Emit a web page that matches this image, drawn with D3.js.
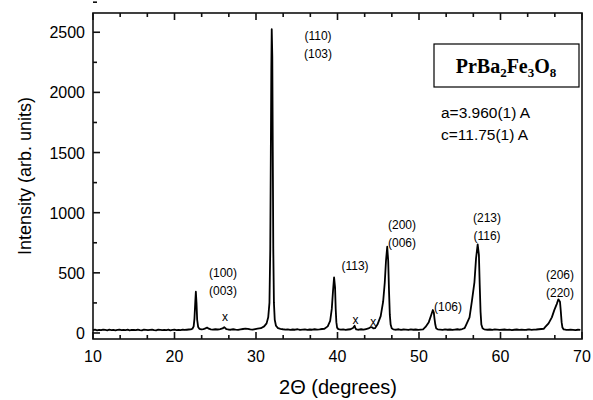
<!DOCTYPE html>
<html><head><meta charset="utf-8">
<script src="https://cdn.jsdelivr.net/npm/d3@7"></script>
<style>body{margin:0;background:#fff}svg{display:block}</style>
</head><body>
<svg id="c" width="593" height="400"></svg>
<script>
// 2θ (degrees)
const twoTheta = [
10,10.25,10.5,10.75,11,11.25,11.5,11.75,12,12.25,12.5,12.75,13,13.25,13.5,13.75,14,14.25,14.5,14.75,15,15.25,15.5,15.75,16,16.25,16.5,16.75,17,17.25,17.5,17.75,18,18.25,18.5,18.75,19,19.25,19.5,19.75,20,20.25,20.5,20.75,21,21.25,21.5,21.75,
22,22.2,22.35,22.45,22.55,22.62,22.7,22.78,22.9,23.05,23.3,23.55,23.8,24,24.2,24.45,24.7,25,25.3,25.6,25.9,26.1,26.2,26.35,26.6,26.9,27.2,27.5,27.8,28.1,28.4,28.7,29,29.3,29.6,29.9,30.2,
30.6,31,31.3,31.5,31.65,31.75,31.82,31.88,31.93,32,32.06,32.12,32.2,32.3,32.45,32.7,33,33.3,33.6,33.9,34.2,34.5,34.8,35.1,35.4,35.7,36,36.3,36.6,36.9,37.2,37.5,37.8,38.1,38.4,
38.8,39.1,39.3,39.45,39.58,39.7,39.78,39.86,39.95,40.1,40.4,40.7,41,41.3,41.6,41.9,42.1,42.2,42.3,42.6,42.9,43.2,43.5,43.8,44.1,44.3,44.4,44.6,
44.9,45.3,45.6,45.8,45.95,46.1,46.22,46.32,46.42,46.52,46.65,46.85,47.2,47.5,47.8,48.1,48.4,48.7,49,49.3,49.6,49.9,50.2,50.5,
50.8,51.2,51.5,51.7,51.82,51.9,52,52.1,52.3,52.6,52.9,53.2,53.5,53.8,54.1,54.4,54.7,55,55.3,55.6,
55.8,56.2,56.5,56.8,57,57.2,57.35,57.45,57.55,57.65,57.8,58,58.4,58.7,59,59.3,59.6,59.9,60.2,60.5,60.8,61.1,61.4,61.7,62,62.3,62.6,62.9,63.2,63.5,63.8,64.1,64.4,64.7,65,65.3,
65.5,65.9,66.3,66.6,66.9,67.1,67.3,67.4,67.5,67.6,67.75,68,68.3,68.6,68.9,69.2,69.5,69.8,70
];
// Intensity (arb. units)
const intensity = [
24,27,22,26,23,28,25,22,27,24,26,21,25,28,23,26,24,27,22,25,26,23,28,24,22,27,25,23,26,28,24,22,27,25,23,26,24,28,22,25,27,23,26,24,28,25,27,29,
30,35,55,120,260,343,250,110,50,35,30,33,38,45,36,30,28,31,29,33,38,48,42,33,29,27,31,28,26,30,33,36,35,30,28,32,36,
40,55,80,130,250,700,1500,2200,2525,2300,1500,700,250,110,60,40,35,31,28,30,26,29,27,31,25,28,30,26,29,27,31,28,30,33,
35,55,100,200,350,462,380,200,90,45,32,28,30,26,29,31,42,60,40,30,27,31,28,33,38,50,45,38,
40,70,140,260,420,600,717,600,350,150,70,40,30,27,31,26,29,28,25,30,27,29,26,28,
30,50,90,150,191,170,120,70,40,30,28,26,30,27,29,25,28,31,27,33,
40,70,130,270,420,620,737,650,400,180,70,40,30,27,29,26,30,28,25,27,29,26,28,24,27,29,26,28,25,27,30,26,28,29,31,33,
35,50,80,130,190,240,280,260,180,90,45,30,27,25,28,26,24,27,25
];
const xTickValues = [10,20,30,40,50,60,70];
const yTickValues = [0,500,1000,1500,2000,2500];
const peakLabels = [
  {x:22.6, lines:["(100)","(003)"]},
  {x:32.0, lines:["(110)","(103)"]},
  {x:39.7, lines:["(113)"]},
  {x:46.2, lines:["(200)","(006)"]},
  {x:51.9, lines:["(106)"]},
  {x:57.4, lines:["(213)","(116)"]},
  {x:67.3, lines:["(206)","(220)"]}
];
const impurities = [26.2, 42.2, 44.4];
const paramLines = ["a=3.960(1) A","c=11.75(1) A"];

const svg = d3.select("#c");
const PL=93, PR=582, PT=13, PB=339;
const x = d3.scaleLinear().domain([10,70]).range([PL,PR]);
const y = d3.scaleLinear().domain([-50,2660]).range([PB,PT]);
const font = "'Liberation Sans', Arial, sans-serif";

// plot frame
svg.append("rect").attr("x",PL).attr("y",PT).attr("width",PR-PL).attr("height",PB-PT)
  .attr("fill","#fff").attr("stroke","#111").attr("stroke-width",1.6);

// ticks
const xMinor = d3.range(0,19).map(i=>10+i*10/3).filter(v=>Math.abs(v-Math.round(v/10)*10)>0.01);
const yMinor = yTickValues.map(v=>v+250);
const xt = xTickValues.map(v=>[v,7]).concat(xMinor.map(v=>[v,4]));
const yt = yTickValues.map(v=>[v,7]).concat(yMinor.map(v=>[v,4]));
const tickG = svg.append("g");
xt.forEach(d=>{
  tickG.append("line").attr("x1",x(d[0])).attr("x2",x(d[0])).attr("y1",PB).attr("y2",PB-d[1])
    .attr("stroke","#111").attr("stroke-width",1.6);
  tickG.append("line").attr("x1",x(d[0])).attr("x2",x(d[0])).attr("y1",PT).attr("y2",PT+d[1])
    .attr("stroke","#111").attr("stroke-width",1.6);
});
yt.forEach(d=>{
  tickG.append("line").attr("x1",PL).attr("x2",PL+d[1]).attr("y1",y(d[0])).attr("y2",y(d[0]))
    .attr("stroke","#111").attr("stroke-width",1.6);
});

svg.append("g").selectAll("text").data(xTickValues).join("text")
  .attr("x",d=>x(d)).attr("y",362).attr("text-anchor","middle")
  .attr("font-family",font).attr("font-size",16).text(d=>d);
svg.append("g").selectAll("text").data(yTickValues).join("text")
  .attr("x",85).attr("y",d=>y(d)+6).attr("text-anchor","end")
  .attr("font-family",font).attr("font-size",16).text(d=>d);

svg.append("text").attr("x",338).attr("y",394).attr("text-anchor","middle")
  .attr("font-family",font).attr("font-size",20).text("2\u0398 (degrees)");
svg.append("text").attr("transform","translate(31,176) rotate(-90)").attr("text-anchor","middle")
  .attr("font-family",font).attr("font-size",18).text("Intensity (arb. units)");

// data line
const pts = twoTheta.map((t,i)=>[t,intensity[i]]);
svg.append("path").datum(pts)
  .attr("d",d3.line().x(d=>x(d[0])).y(d=>y(d[1])))
  .attr("fill","none").attr("stroke","#000").attr("stroke-width",1.8).attr("stroke-linejoin","round");

// peak labels
const labelPos = {22.6:[223,277],32.0:[318,40],39.7:[355,270],46.2:[402,229],51.9:[448,311],57.4:[487,222],67.3:[560,279]};
peakLabels.forEach(p=>{
  const [lx,ly]=labelPos[p.x];
  p.lines.forEach((s,i)=>{
    svg.append("text").attr("x",lx).attr("y",ly+i*18).attr("text-anchor","middle")
      .attr("font-family",font).attr("font-size",12).attr("fill","#000").text(s);
  });
});
const impPos = {26.2:321, 42.2:324, 44.4:326};
svg.append("g").selectAll("text").data(impurities).join("text")
  .attr("x",d=>x(d)).attr("y",d=>impPos[d]).attr("text-anchor","middle")
  .attr("font-family",font).attr("font-size",12).text("x");

// title box
svg.append("rect").attr("x",434).attr("y",44).attr("width",145).attr("height",43)
  .attr("fill","#fff").attr("stroke","#000").attr("stroke-width",1.2);
const tt = svg.append("text").attr("x",506).attr("y",73).attr("text-anchor","middle")
  .attr("font-family","'Liberation Serif','Times New Roman',serif").attr("font-weight","bold").attr("font-size",20);
tt.append("tspan").text("PrBa");
tt.append("tspan").attr("font-size",13).attr("dy",4).text("2");
tt.append("tspan").attr("dy",-4).text("Fe");
tt.append("tspan").attr("font-size",13).attr("dy",4).text("3");
tt.append("tspan").attr("dy",-4).text("O");
tt.append("tspan").attr("font-size",13).attr("dy",4).text("8");
paramLines.forEach((s,i)=>{
  svg.append("text").attr("x",441).attr("y",118+i*22)
    .attr("font-family",font).attr("font-size",15.5).text(s);
});
</script>
</body></html>
